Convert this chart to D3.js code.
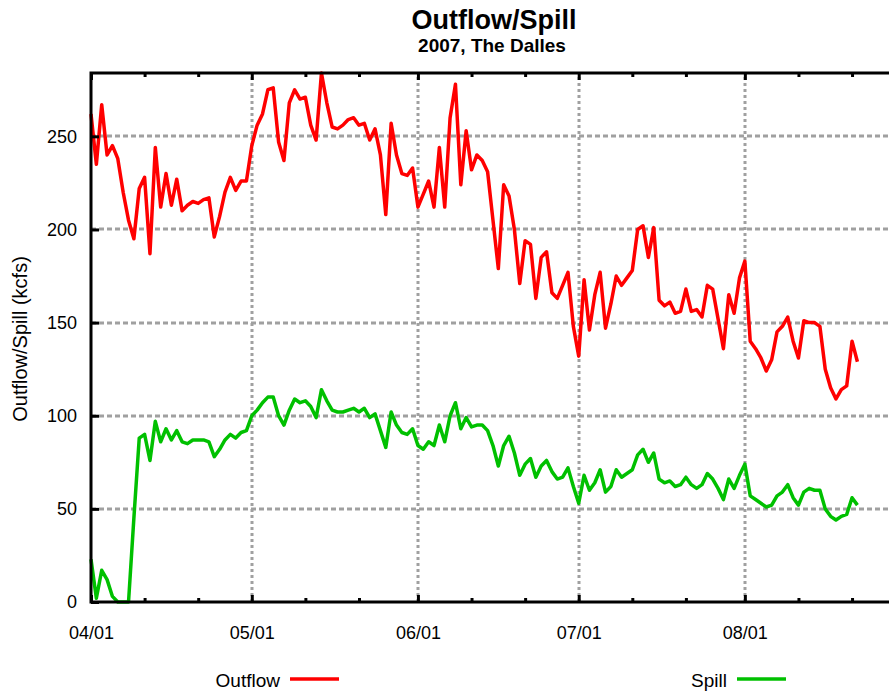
<!DOCTYPE html>
<html>
<head>
<meta charset="utf-8">
<script src="https://cdn.jsdelivr.net/npm/d3@7"></script>
<style>
  body { margin: 0; background: #fff; }
  svg { display: block; font-family: "Liberation Sans", Arial, sans-serif; }
</style>
</head>
<body>
<script>
// daily values starting 2007-04-01
var startDate = "2007-04-01";
var outflow = [262,235,267,240,245,238,220,205,195,222,228,187,244,212,230,213,227,210,213,215,
  214,216,217,196,207,220,228,221,226,226,245,256,262,275,276,247,237,268,275,270,
  271,256,248,284,268,255,254,256,259,260,256,257,248,254,240,208,257,240,230,229,
  233,212,219,226,212,244,212,260,278,224,253,232,240,237,231,205,179,224,218,200,
  171,194,192,163,185,188,166,163,170,177,148,132,173,146,165,177,147,160,175,170,
  174,178,200,202,185,201,162,159,161,155,156,168,156,157,153,170,168,152,136,165,
  155,174,183,140,136,131,124,130,145,148,153,140,131,151,150,150,148,125,115,109,
  114,116,140,129];
var spill = [23,2,17,12,3,0,0,0,45,88,90,76,97,86,93,87,92,86,85,87,
  87,87,86,78,82,87,90,88,91,92,100,103,107,110,110,100,95,103,109,107,
  108,105,99,114,108,103,102,102,103,104,102,104,99,101,92,83,102,95,91,90,
  93,84,82,86,84,95,86,100,107,93,99,94,95,95,92,84,73,84,89,80,
  68,74,77,67,73,76,70,66,67,72,62,53,68,60,64,71,59,62,71,67,
  69,71,79,82,75,80,66,64,65,62,63,67,63,61,63,69,66,61,55,66,
  61,68,74,57,55,53,51,52,57,59,63,56,52,59,61,60,60,50,46,44,
  46,47,56,52];
var yTicks = [0, 50, 100, 150, 200, 250];
var monthTicks = ["2007-04-01","2007-05-01","2007-06-01","2007-07-01","2007-08-01"];
var minorTicks = ["2007-04-11","2007-04-21","2007-05-11","2007-05-21","2007-06-11","2007-06-21",
  "2007-07-11","2007-07-21","2007-08-11","2007-08-21"];

var width = 889, height = 692;
var plotLeft = 91, plotTop = 73, plotBottom = 602, plotRight = 911;

var parse = d3.timeParse("%Y-%m-%d");
var t0 = parse(startDate);
var day = function(i){ return d3.timeDay.offset(t0, i); };

var x = d3.scaleTime()
    .domain([t0, parse("2007-09-01")])
    .range([plotLeft, plotRight]);
var y = d3.scaleLinear()
    .domain([0, 284])
    .range([plotBottom, plotTop]);

var svg = d3.select("body").append("svg")
    .attr("width", width).attr("height", height);

// grid
svg.append("g").selectAll("line").data(yTicks.slice(1)).enter().append("line")
    .attr("x1", plotLeft).attr("x2", plotRight)
    .attr("y1", function(d){ return Math.round(y(d)); }).attr("y2", function(d){ return Math.round(y(d)); })
    .attr("stroke", "#a0a0a0").attr("stroke-width", 3).attr("stroke-dasharray", "5,3");
svg.append("g").selectAll("line").data(monthTicks.slice(1)).enter().append("line")
    .attr("x1", function(d){ return Math.round(x(parse(d))); }).attr("x2", function(d){ return Math.round(x(parse(d))); })
    .attr("y1", plotBottom).attr("y2", plotTop)
    .attr("stroke", "#a0a0a0").attr("stroke-width", 3).attr("stroke-dasharray", "3,3");

// series
var line = d3.line()
    .x(function(d, i){ return x(day(i)); })
    .y(function(d){ return y(d); });

svg.append("path").attr("d", line(outflow))
    .attr("fill", "none").attr("stroke", "#ff0000").attr("stroke-width", 3.5)
    .attr("stroke-linejoin", "round");
svg.append("path").attr("d", line(spill))
    .attr("fill", "none").attr("stroke", "#00c000").attr("stroke-width", 3.5)
    .attr("stroke-linejoin", "round");

// axes
var yAxis = d3.axisLeft(y).tickValues(yTicks).tickSize(-8).tickPadding(14);
var xAxis = d3.axisBottom(x).tickValues(monthTicks.map(parse))
    .tickFormat(d3.timeFormat("%m/%d")).tickSize(-7).tickPadding(24);
var xMinor = d3.axisBottom(x).tickValues(minorTicks.map(parse)).tickFormat("").tickSize(-4);
var xTop = d3.axisTop(x).tickValues(monthTicks.map(parse)).tickFormat("").tickSize(-7);
var xTopMinor = d3.axisTop(x).tickValues(minorTicks.map(parse)).tickFormat("").tickSize(-4);

var gy = svg.append("g").attr("transform", "translate(" + plotLeft + ",0)").call(yAxis);
var gx = svg.append("g").attr("transform", "translate(0," + plotBottom + ")").call(xAxis);
var gxm = svg.append("g").attr("transform", "translate(0," + plotBottom + ")").call(xMinor);
var gt = svg.append("g").attr("transform", "translate(0," + plotTop + ")").call(xTop);
var gtm = svg.append("g").attr("transform", "translate(0," + plotTop + ")").call(xTopMinor);

[gy, gx, gxm, gt, gtm].forEach(function(g){
  g.select(".domain").remove();
  g.selectAll(".tick line").attr("stroke", "#000").attr("stroke-width", 3);
  g.selectAll(".tick text").attr("font-size", 18).attr("fill", "#000")
    .style("font-family", "'Liberation Sans', Arial, sans-serif");
});

// frame
svg.append("path")
    .attr("d", "M" + plotRight + "," + plotTop + "H" + plotLeft + "V" + plotBottom + "H" + plotRight)
    .attr("fill", "none").attr("stroke", "#000").attr("stroke-width", 3);

// titles
svg.append("text").attr("x", 494).attr("y", 29).attr("text-anchor", "middle")
    .attr("font-size", 27).attr("font-weight", "bold").text("Outflow/Spill");
svg.append("text").attr("x", 492).attr("y", 52).attr("text-anchor", "middle")
    .attr("font-size", 19).attr("font-weight", "bold").text("2007, The Dalles");
svg.append("text").attr("transform", "translate(27,339) rotate(-90)")
    .attr("text-anchor", "middle").attr("font-size", 20).text("Outflow/Spill (kcfs)");

// legend
var legend = [{name: "Outflow", color: "#ff0000", x: 290}, {name: "Spill", color: "#00c000", x: 737}];
legend.forEach(function(l){
  svg.append("text").attr("x", l.x - 10).attr("y", 687).attr("text-anchor", "end")
    .attr("font-size", 19).text(l.name);
  svg.append("line").attr("x1", l.x).attr("x2", l.x + 49).attr("y1", 679).attr("y2", 679)
    .attr("stroke", l.color).attr("stroke-width", 3.5);
});
</script>
</body>
</html>
